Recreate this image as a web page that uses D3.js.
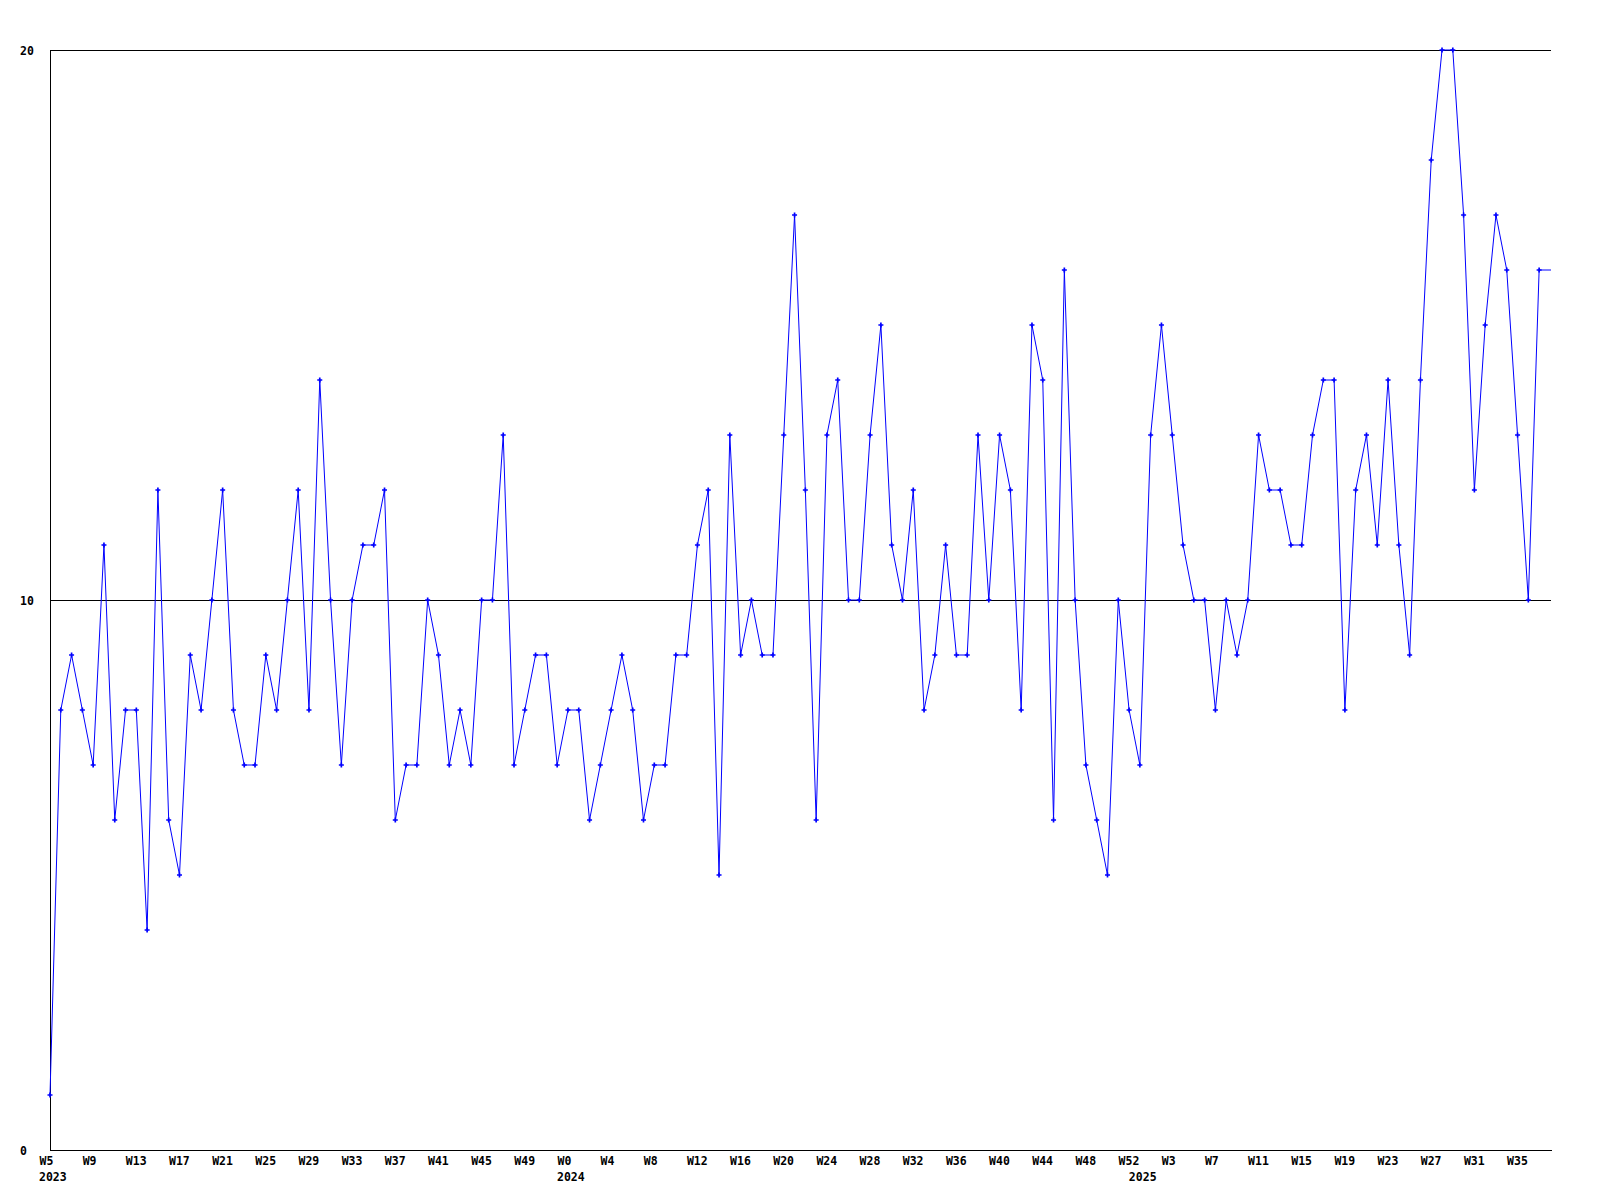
<!DOCTYPE html>
<html>
<head>
<meta charset="utf-8">
<script src="https://cdn.jsdelivr.net/npm/d3@7"></script>
<style>
  body { margin: 0; background: #fff; }
  svg text { font-family: "DejaVu Sans Mono", monospace; font-weight: bold; font-size: 11.5px; fill: #000; }
</style>
</head>
<body>
<div id="chart"></div>
<script>
// weekly counts, 2023 W5 .. 2025 W37
var values = [1, 8, 9, 8, 7, 11, 6, 8, 8, 4, 12, 6, 5, 9, 8, 10, 12, 8, 7, 7,
  9, 8, 10, 12, 8, 14, 10, 7, 10, 11, 11, 12, 6, 7, 7, 10, 9, 7, 8, 7,
  10, 10, 13, 7, 8, 9, 9, 7, 8, 8, 6, 7, 8, 9, 8, 6, 7, 7, 9, 9,
  11, 12, 5, 13, 9, 10, 9, 9, 13, 17, 12, 6, 13, 14, 10, 10, 13, 15, 11, 10,
  12, 8, 9, 11, 9, 9, 13, 10, 13, 12, 8, 15, 14, 6, 16, 10, 7, 6, 5, 10,
  8, 7, 13, 15, 13, 11, 10, 10, 8, 10, 9, 10, 13, 12, 12, 11, 11, 13, 14, 14,
  8, 12, 13, 11, 14, 11, 9, 14, 18, 20, 20, 17, 12, 15, 17, 16, 13, 10, 16];

var weekLabels = ["W5", "W9", "W13", "W17", "W21", "W25", "W29", "W33", "W37", "W41", "W45", "W49",
  "W0", "W4", "W8", "W12", "W16", "W20", "W24", "W28", "W32", "W36", "W40", "W44", "W48", "W52",
  "W3", "W7", "W11", "W15", "W19", "W23", "W27", "W31", "W35"];
var weekTicks = weekLabels.map(function (d, i) { return i * 4; });

var yearLabels = ["2023", "2024", "2025"];
var yearTicks = [0, 48, 101];

var yTicks = [0, 10, 20];

var width = 1600, height = 1200;
var margin = {top: 50, right: 49, bottom: 50, left: 50};

var svg = d3.select("#chart").append("svg")
    .attr("width", width)
    .attr("height", height);

var x = d3.scaleLinear()
    .domain([0, 139.1])
    .range([margin.left, width - margin.right]);

var y = d3.scaleLinear()
    .domain([0, 20])
    .range([height - margin.bottom, margin.top]);

// horizontal grid + y labels
var yAxis = d3.axisLeft(y)
    .tickValues(yTicks)
    .tickSizeInner(-(width - margin.left - margin.right))
    .tickSizeOuter(0)
    .tickFormat(d3.format("d"));

var gY = svg.append("g")
    .attr("transform", "translate(" + margin.left + ",0)")
    .call(yAxis);
gY.select(".domain").attr("stroke", "#000").attr("shape-rendering", "crispEdges");
gY.selectAll(".tick line").attr("stroke", "#000").attr("shape-rendering", "crispEdges");
gY.selectAll(".tick text")
    .attr("text-anchor", "start")
    .attr("x", 20 - margin.left)
    .attr("dy", "0.35em");

// bottom axis with week labels
var xAxis = d3.axisBottom(x)
    .tickValues(weekTicks)
    .tickSize(0)
    .tickPadding(7)
    .tickFormat(function (d, i) { return weekLabels[i]; });

var gX = svg.append("g")
    .attr("transform", "translate(0," + (height - margin.bottom) + ")")
    .call(xAxis);
gX.select(".domain").attr("stroke", "#000").attr("shape-rendering", "crispEdges");
gX.selectAll(".tick text")
    .attr("text-anchor", "start")
    .attr("dx", -11);

svg.append("g").selectAll("text")
    .data(yearLabels)
    .enter().append("text")
    .attr("x", function (d, i) { return x(yearTicks[i]) - 11; })
    .attr("y", height - margin.bottom + 31)
    .text(function (d) { return d; });

// the series, carried flat to the right edge
var pts = values.map(function (v, i) { return [i, v]; });
var linePts = pts.concat([[x.domain()[1], values[values.length - 1]]]);

var line = d3.line()
    .x(function (d) { return x(d[0]); })
    .y(function (d) { return y(d[1]); });

svg.append("path")
    .datum(linePts)
    .attr("fill", "none")
    .attr("stroke", "#0000ff")
    .attr("stroke-width", 1)
    .attr("d", line);

var marker = d3.symbol().type(d3.symbolCross).size(14);

svg.append("g").selectAll("path")
    .data(pts)
    .enter().append("path")
    .attr("d", marker)
    .attr("fill", "#0000ff")
    .attr("transform", function (d) { return "translate(" + x(d[0]) + "," + y(d[1]) + ")"; });
</script>
</body>
</html>
